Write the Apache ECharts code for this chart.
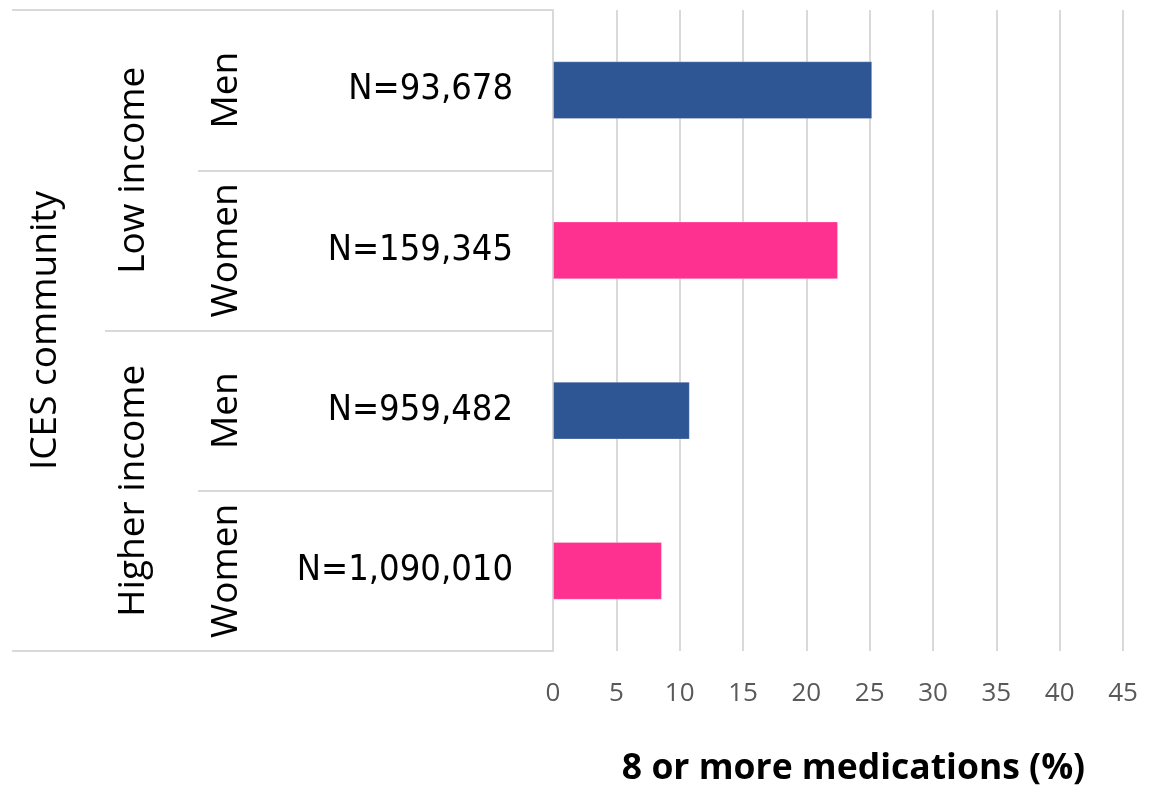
<!DOCTYPE html>
<html>
<head>
<meta charset="utf-8">
<script src="https://cdn.jsdelivr.net/npm/echarts@6/dist/echarts.min.js"></script>
<style>
  html, body { margin: 0; padding: 0; background: #ffffff; }
  #chart { width: 1152px; height: 793px; }
</style>
</head>
<body>
<div id="chart"></div>
<script>
// Share of people on 8 or more medications, by community income and sex
const sampleLabels = ['N=93,678', 'N=159,345', 'N=959,482', 'N=1,090,010'];
const sexLabels = ['Men', 'Women', 'Men', 'Women'];
const incomeLabels = ['Low income', 'Higher income'];
const communityLabels = ['ICES community'];
const percentValues = [25.2, 22.5, 10.8, 8.6];
const barColors = ['#2E5594', '#FF3190', '#2E5594', '#FF3190'];
const xTicks = { min: 0, max: 45, interval: 5 };
const xTitle = '8 or more medications (%)';

const LINE = '#D9D9D9';
const SANS = '"Open Sans", "Noto Sans", sans-serif';
const NARROW = '"DejaVu Sans Condensed", "Open Sans", sans-serif';

const AXIS_X = 553; // left edge of the plot area

// Outer levels of the nested category axis: rotated labels plus
// boundary ticks long enough to act as the table's separator lines.
function groupAxis(data, tickReach, labelCenterX) {
  return {
    type: 'category',
    position: 'left',
    inverse: true,
    data: data,
    axisLine: { show: false },
    axisTick: tickReach ? { show: true, length: tickReach, lineStyle: { color: LINE, width: 2 } } : { show: false },
    axisLabel: {
      interval: 0,
      rotate: 90,
      margin: AXIS_X - labelCenterX,
      align: 'center',
      verticalAlign: 'middle',
      fontFamily: SANS,
      fontSize: 37,
      color: '#000000'
    },
    splitLine: { show: false }
  };
}

const chart = echarts.init(document.getElementById('chart'), null, { renderer: 'canvas' });

chart.setOption({
  animation: false,
  backgroundColor: '#ffffff',
  grid: { left: AXIS_X, top: 10, right: 29, bottom: 142, containLabel: false },
  xAxis: {
    type: 'value',
    min: xTicks.min,
    max: xTicks.max,
    interval: xTicks.interval,
    axisLine: { show: false },
    axisTick: { show: false },
    axisLabel: {
      margin: 30,
      fontFamily: SANS,
      fontSize: 26,
      color: '#595959'
    },
    splitLine: { show: true, lineStyle: { color: LINE, width: 2 } },
    name: xTitle,
    nameLocation: 'middle',
    nameGap: 100,
    nameTextStyle: {
      fontFamily: SANS,
      fontWeight: 'bold',
      fontSize: 35.5,
      color: '#000000',
      padding: [0, 0, 0, 31]
    }
  },
  yAxis: [
    {
      type: 'category',
      position: 'left',
      inverse: true,
      data: sampleLabels,
      axisLine: { show: true, lineStyle: { color: LINE, width: 2 } },
      axisTick: { show: true, length: AXIS_X - 198, lineStyle: { color: LINE, width: 2 } },
      axisLabel: {
        interval: 0,
        margin: 40,
        fontFamily: NARROW,
        fontSize: 36,
        color: '#000000'
      },
      splitLine: { show: false }
    },
    groupAxis(sexLabels, 0, 226),
    groupAxis(incomeLabels, AXIS_X - 105, 133),
    groupAxis(communityLabels, AXIS_X - 12, 45)
  ],
  series: [
    {
      type: 'bar',
      yAxisIndex: 0,
      barWidth: '36%',
      data: percentValues.map((v, i) => ({
        value: v,
        itemStyle: { color: barColors[i], borderColor: 'rgba(255,255,255,0.25)', borderWidth: 1 }
      }))
    }
  ]
});
</script>
</body>
</html>
